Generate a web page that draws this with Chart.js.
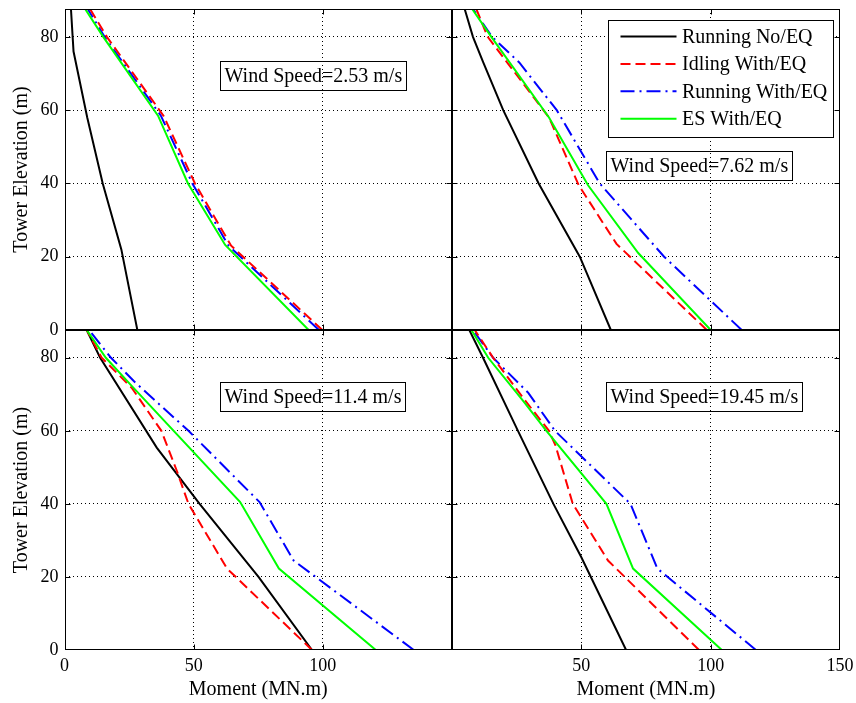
<!DOCTYPE html>
<html><head><meta charset="utf-8">
<script src="https://cdn.jsdelivr.net/npm/chart.js@4.4.1/dist/chart.umd.min.js"></script>
<style>
html,body{margin:0;padding:0;background:#fff;}
#wrap{position:relative;width:856px;height:703px;overflow:hidden;background:#fff;}
canvas{position:absolute;left:0;top:0;}
</style></head><body>
<div id="wrap">
<canvas id="c1" width="856" height="703"></canvas>
<canvas id="c2" width="856" height="703"></canvas>
<canvas id="c3" width="856" height="703"></canvas>
<canvas id="c4" width="856" height="703"></canvas>
</div>
<script>
// ---------- DATA (moment in MN.m, elevation in m) ----------
const seriesLabels = ['Running No/EQ', 'Idling With/EQ', 'Running With/EQ', 'ES With/EQ'];
const windSpeedLabels = ['Wind Speed=2.53 m/s', 'Wind Speed=7.62 m/s', 'Wind Speed=11.4 m/s', 'Wind Speed=19.45 m/s'];
const xTickLabelsLeft = [0, 50, 100];
const xTickLabelsRight = [50, 100, 150];
const yTickValues = [0, 20, 40, 60, 80];

// Wind speed 2.53 m/s
const ws253_runNoEQ_moment = [28.2, 22, 14.8, 8.8, 3.5, 2.5];
const ws253_runNoEQ_elev   = [0, 22, 40, 58, 76, 87.6];
const ws253_idlEQ_moment   = [99.8, 64.5, 50.5, 38.3, 16.4, 9.9];
const ws253_idlEQ_elev     = [0, 23, 40, 58.5, 80, 87.6];
const ws253_runEQ_moment   = [98.5, 63.5, 49.5, 37.3, 15.5, 9];
const ws253_runEQ_elev     = [0, 23, 40, 58.5, 80, 87.6];
const ws253_esEQ_moment    = [94.5, 62.2, 47.8, 36.2, 15, 8];
const ws253_esEQ_elev      = [0, 23.2, 40, 58.5, 80, 87.6];

// Wind speed 7.62 m/s
const ws762_runNoEQ_moment = [61.4, 49.4, 33.5, 19.8, 12, 8.1, 4.9];
const ws762_runNoEQ_elev   = [0, 20, 40, 60, 73.2, 80, 87.6];
const ws762_idlEQ_moment   = [98.5, 63.6, 49, 37.5, 13.8, 9.4];
const ws762_idlEQ_elev     = [0, 23.5, 39.5, 58, 80, 87.6];
const ws762_runEQ_moment   = [112, 82, 57.1, 40.5, 26, 15.5, 8.1];
const ws762_runEQ_elev     = [0, 20, 40, 60, 73, 80, 87.6];
const ws762_esEQ_moment    = [100, 72, 52.6, 37.5, 15.2, 7.8];
const ws762_esEQ_elev      = [0, 21, 39.5, 58, 80, 87.6];

// Wind speed 11.4 m/s
const ws114_runNoEQ_moment = [95.8, 75.1, 52.3, 35.7, 13.8, 8.6];
const ws114_runNoEQ_elev   = [0, 20, 40, 55.4, 80, 87.6];
const ws114_idlEQ_moment   = [95.8, 62.9, 48, 43.5, 37.5, 26, 14.4, 8.6];
const ws114_idlEQ_elev     = [0, 22.3, 40, 49, 60, 71.8, 80, 87.6];
const ws114_runEQ_moment   = [135.2, 88.7, 75.5, 48, 27, 18, 9.5];
const ws114_runEQ_elev     = [0, 24.5, 40.5, 60, 73.5, 80, 87.6];
const ws114_esEQ_moment    = [120.5, 83, 68, 26, 16, 8.6];
const ws114_esEQ_elev      = [0, 22.3, 40.5, 72.3, 80, 87.6];

// Wind speed 19.45 m/s
const ws1945_runNoEQ_moment = [67.3, 50, 39.2, 25.5, 12, 6.7];
const ws1945_runNoEQ_elev   = [0, 25.4, 40, 60, 80, 87.6];
const ws1945_idlEQ_moment   = [95.5, 60.3, 46.7, 40, 37.5, 27.5, 15.9, 8.8];
const ws1945_idlEQ_elev     = [0, 24.5, 40, 56, 60, 69, 80, 87.6];
const ws1945_runEQ_moment   = [117.5, 79.4, 69, 39.8, 29.5, 15.9, 8.1];
const ws1945_runEQ_elev     = [0, 22.3, 40, 60, 70.4, 80, 87.6];
const ws1945_esEQ_moment    = [104.3, 70, 59.7, 36.5, 27.5, 14, 7.5];
const ws1945_esEQ_elev      = [0, 22.3, 40, 60, 68.2, 80, 87.6];

// ---------- STYLE / LAYOUT ----------
const FONT = "'Liberation Serif','Times New Roman',serif";
const seriesColors = ['#000000', '#ff0000', '#0000ff', '#00ff00'];
const seriesDash = [[], [10, 5], [14, 5, 2, 5], []];
const seriesOrder = [3, 1, 2, 0];

function pts(xs, ys) { return xs.map((x, i) => ({x: x, y: ys[i]})); }

const panels = [
  {canvas: 'c1', label: windSpeedLabels[0], leftCol: true, bottomRow: false, legend: false,
   pad: {left: 0, top: 9, right: 404, bottom: 373}, annot: {x: 60, y: 73.4},
   series: [[ws253_runNoEQ_moment, ws253_runNoEQ_elev], [ws253_idlEQ_moment, ws253_idlEQ_elev],
            [ws253_runEQ_moment, ws253_runEQ_elev], [ws253_esEQ_moment, ws253_esEQ_elev]]},
  {canvas: 'c2', label: windSpeedLabels[1], leftCol: false, bottomRow: false, legend: true,
   pad: {left: 452, top: 9, right: 16, bottom: 373}, annot: {x: 59.4, y: 48.8},
   series: [[ws762_runNoEQ_moment, ws762_runNoEQ_elev], [ws762_idlEQ_moment, ws762_idlEQ_elev],
            [ws762_runEQ_moment, ws762_runEQ_elev], [ws762_esEQ_moment, ws762_esEQ_elev]]},
  {canvas: 'c3', label: windSpeedLabels[2], leftCol: true, bottomRow: true, legend: false,
   pad: {left: 0, top: 330, right: 404, bottom: 0}, annot: {x: 60, y: 73.4},
   series: [[ws114_runNoEQ_moment, ws114_runNoEQ_elev], [ws114_idlEQ_moment, ws114_idlEQ_elev],
            [ws114_runEQ_moment, ws114_runEQ_elev], [ws114_esEQ_moment, ws114_esEQ_elev]]},
  {canvas: 'c4', label: windSpeedLabels[3], leftCol: false, bottomRow: true, legend: false,
   pad: {left: 452, top: 330, right: 16, bottom: 0}, annot: {x: 59.4, y: 73.4},
   series: [[ws1945_runNoEQ_moment, ws1945_runNoEQ_elev], [ws1945_idlEQ_moment, ws1945_idlEQ_elev],
            [ws1945_runEQ_moment, ws1945_runEQ_elev], [ws1945_esEQ_moment, ws1945_esEQ_elev]]}
];

const decorPlugin = {
  id: 'decor',
  afterDatasetsDraw(chart, args, opts) {
    const ctx = chart.ctx, a = chart.chartArea;
    const xs = chart.scales.x, ys = chart.scales.y;
    ctx.save();
    // frame
    ctx.strokeStyle = '#000'; ctx.lineWidth = 1; ctx.setLineDash([]);
    const L = Math.round(a.left) + 0.5, R = Math.round(a.right) - 0.5, T = Math.round(a.top) + 0.5, B = Math.round(a.bottom) - 0.5;
    ctx.strokeRect(L, T, R - L, B - T);
    // inward ticks
    const tl = 5;
    ctx.beginPath();
    [50, 100].forEach(v => {
      const px = Math.round(xs.getPixelForValue(v)) + 0.5;
      ctx.moveTo(px, B); ctx.lineTo(px, B - tl);
      ctx.moveTo(px, T); ctx.lineTo(px, T + tl);
    });
    [20, 40, 60, 80].forEach(v => {
      const py = Math.round(ys.getPixelForValue(v)) + 0.5;
      ctx.moveTo(L, py); ctx.lineTo(L + tl, py);
      ctx.moveTo(R, py); ctx.lineTo(R - tl, py);
    });
    ctx.stroke();
    // annotation box
    ctx.font = '20px ' + FONT;
    ctx.textBaseline = 'middle'; ctx.textAlign = 'left'; ctx.fillStyle = '#000';
    const tw = ctx.measureText(opts.text).width;
    const bx = Math.round(xs.getPixelForValue(opts.x)) + 0.5;
    const by = Math.round(ys.getPixelForValue(opts.y)) + 0.5;
    const bw = Math.round(tw + 8), bh = 29;
    ctx.strokeRect(bx, by, bw, bh);
    ctx.fillText(opts.text, bx + 4, by + bh / 2 + 1);
    // legend
    if (opts.legend) {
      const maxW = Math.max(...seriesLabels.map(s => ctx.measureText(s).width));
      const w = Math.round(74 + maxW + 6), h = 117;
      const right = Math.round(a.right - 7) + 0.5, left = right - w, top = Math.round(a.top + 11) + 0.5;
      ctx.fillStyle = '#fff'; ctx.fillRect(left, top, w, h);
      ctx.strokeStyle = '#000'; ctx.lineWidth = 1; ctx.strokeRect(left, top, w, h);
      seriesLabels.forEach((s, i) => {
        const cy = top + 16 + i * 27.4;
        ctx.save();
        ctx.strokeStyle = seriesColors[i]; ctx.lineWidth = 2; ctx.setLineDash(seriesDash[i]);
        ctx.beginPath(); ctx.moveTo(left + 12, cy); ctx.lineTo(left + 68, cy); ctx.stroke();
        ctx.restore();
        ctx.fillStyle = '#000';
        ctx.fillText(s, left + 73.5, cy + 1);
      });
    }
    ctx.restore();
  }
};

panels.forEach(p => {
  const datasets = p.series.map((s, i) => ({
    label: seriesLabels[i],
    data: pts(s[0], s[1]),
    borderColor: seriesColors[i],
    borderDash: seriesDash[i],
    borderWidth: 2,
    pointRadius: 0,
    showLine: true,
    fill: false,
    tension: 0,
    order: seriesOrder[i]
  }));
  const shownX = p.leftCol ? xTickLabelsLeft : xTickLabelsRight;
  new Chart(document.getElementById(p.canvas), {
    type: 'scatter',
    data: {datasets: datasets},
    options: {
      responsive: false, animation: false, devicePixelRatio: 1,
      layout: {padding: p.pad},
      plugins: {legend: {display: false}, tooltip: {enabled: false},
        decor: {text: p.label, x: p.annot.x, y: p.annot.y, legend: p.legend}},
      scales: {
        x: {
          type: 'linear', min: 0, max: 150,
          ticks: {display: p.bottomRow, stepSize: 50, padding: 5, color: '#000',
            font: {family: FONT, size: 18},
            callback: v => shownX.includes(v) ? String(v) : ''},
          grid: {drawTicks: false, lineWidth: 1,
            color: c => (c.tick && (c.tick.value === 0 || c.tick.value === 150)) ? 'rgba(0,0,0,0)' : '#000'},
          border: {display: false, dash: [1, 3]},
          title: {display: p.bottomRow, text: 'Moment (MN.m)', color: '#000',
            font: {family: FONT, size: 20}, padding: {top: 0, bottom: 1}},
          afterFit: s => { s.height = p.bottomRow ? 53 : 0; s.paddingLeft = 0; s.paddingRight = 0; s.paddingTop = 0; s.paddingBottom = 0; }
        },
        y: {
          type: 'linear', min: 0, max: 87.6,
          ticks: {display: p.leftCol, stepSize: 20, includeBounds: false, padding: 6, color: '#000',
            font: {family: FONT, size: 18},
            callback: v => yTickValues.includes(v) ? String(v) : ''},
          grid: {drawTicks: false, lineWidth: 1,
            color: c => (c.tick && c.tick.value === 0) ? 'rgba(0,0,0,0)' : '#000'},
          border: {display: false, dash: [1, 3]},
          title: {display: p.leftCol, text: 'Tower Elevation (m)', color: '#000',
            font: {family: FONT, size: 20}, padding: {top: 10, bottom: 0}},
          afterFit: s => { s.width = p.leftCol ? 64.5 : 0; s.paddingLeft = 0; s.paddingRight = 0; s.paddingTop = 0; s.paddingBottom = 0; }
        }
      }
    },
    plugins: [decorPlugin]
  });
});
</script>
</body></html>
